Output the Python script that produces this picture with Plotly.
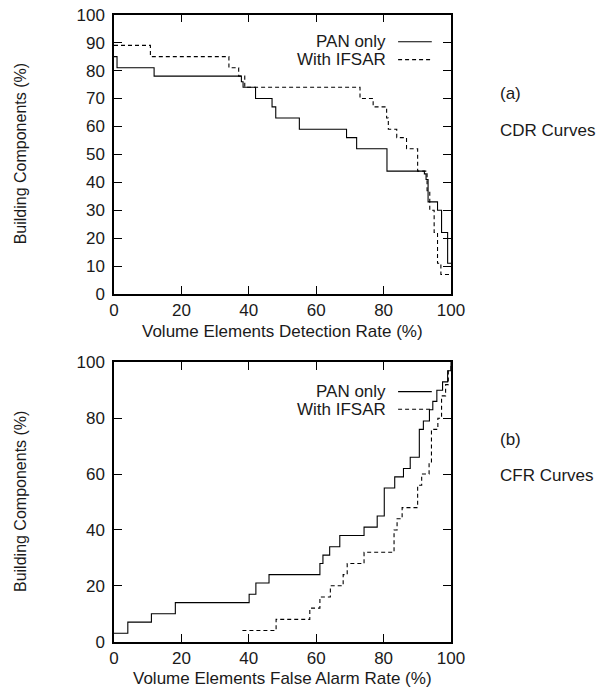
import plotly.graph_objects as go

# ---- data: top panel (CDR curves), step functions (value holds from x_i to x_{i+1})
cdr_pan_x = [0, 0.9, 11.9, 37.8, 38.3, 42.0, 46.9, 48.0, 55.0, 69.0, 72.0, 81.0, 92.1, 92.6, 93.2, 96.0, 97.2, 99.0, 100]
cdr_pan_y = [85, 81, 78, 76, 74, 70, 67, 63, 59, 56, 52, 44, 43, 41, 33, 30, 22, 11, 11]
cdr_ifsar_x = [0, 10.8, 34.1, 37.0, 38.8, 73.0, 76.9, 80.9, 81.4, 83.9, 86.8, 90.1, 92.9, 93.7, 95.0, 96.0, 97.0, 100]
cdr_ifsar_y = [89, 85, 81, 78, 74, 70, 67, 63, 59, 56, 52, 44, 37, 30, 22, 11, 7, 7]

# ---- data: bottom panel (CFR curves)
cfr_pan_x = [0, 4.1, 11.1, 18.2, 40.1, 42.1, 46.0, 61.1, 62.0, 64.0, 67.0, 74.2, 78.1, 80.2, 83.3, 85.9, 87.9, 90.6, 91.8, 93.6, 94.6, 95.8, 97.5, 99.0, 100]
cfr_pan_y = [3, 7, 10, 14, 17, 21, 24, 28, 31, 34, 38, 41, 45, 55, 59, 62, 66, 76, 79, 83, 86, 90, 93, 97, 100]
cfr_ifsar_x = [38.1, 48.1, 58.1, 61.1, 64.2, 68.0, 69.2, 74.2, 83.1, 84.0, 85.5, 90.1, 91.3, 93.5, 94.2, 96.1, 97.2, 98.4, 99.2, 100]
cfr_ifsar_y = [4, 8, 12, 16, 20, 24, 28, 32, 40, 44, 48, 56, 60, 64, 76, 80, 88, 92, 97, 100]

series_names = ["PAN only", "With IFSAR"]
x_ticks = [0, 20, 40, 60, 80, 100]
y_ticks_top = [0, 10, 20, 30, 40, 50, 60, 70, 80, 90, 100]
y_ticks_bottom = [0, 20, 40, 60, 80, 100]

FONT = "Liberation Sans, Arial, sans-serif"
TXT = "#1a1a1a"
FS = 17

# the page body adds an 8px margin; lay out in window pixels and compensate
OFF = 8
W, H = 605 - OFF, 690 - OFF

def px(x):
    return (x - OFF) / W

def py(y):
    return 1 - (y - OFF) / H

fig = go.Figure()

def add_series(x, y, xa, ya, dash):
    fig.add_trace(go.Scatter(x=x, y=y, mode="lines", line_shape="hv",
                             line=dict(color="black", width=1.1, dash=dash),
                             xaxis=xa, yaxis=ya, showlegend=False, hoverinfo="skip"))

add_series(cdr_pan_x, cdr_pan_y, "x", "y", "solid")
add_series(cdr_ifsar_x, cdr_ifsar_y, "x", "y", "4px,3px")
add_series(cfr_pan_x, cfr_pan_y, "x2", "y2", "solid")
add_series(cfr_ifsar_x, cfr_ifsar_y, "x2", "y2", "4px,3px")

xdom = [px(114), px(451)]
top_px = (14.7, 294)
bot_px = (362.3, 641.7)
top_dom = [py(top_px[1]), py(top_px[0])]
bot_dom = [py(bot_px[1]), py(bot_px[0])]

axis_common = dict(showgrid=False, zeroline=False, showline=True, linecolor="black",
                   linewidth=1.5, mirror="ticks", ticks="inside", ticklen=8,
                   tickcolor="black", tickwidth=1, automargin=False,
                   ticklabeloverflow="allow",
                   tickfont=dict(family=FONT, size=FS, color=TXT))

fig.update_layout(
    width=W, height=H,
    margin=dict(l=0, r=0, t=0, b=0),
    paper_bgcolor="white", plot_bgcolor="white",
    xaxis=dict(domain=xdom, anchor="y", range=[0, 100], tickvals=x_ticks,
               ticklabelstandoff=0, **axis_common),
    yaxis=dict(domain=top_dom, anchor="x", range=[0, 100], tickvals=y_ticks_top,
               ticklabelstandoff=4, **axis_common),
    xaxis2=dict(domain=xdom, anchor="y2", range=[0, 100], tickvals=x_ticks,
                ticklabelstandoff=0, **axis_common),
    yaxis2=dict(domain=bot_dom, anchor="x2", range=[0, 100], tickvals=y_ticks_bottom,
                ticklabelstandoff=4, **axis_common),
)

# axis titles
xc = px((114 + 451) / 2)
for text, yy in [("Volume Elements Detection Rate (%)", 331), ("Volume Elements False Alarm Rate (%)", 678)]:
    fig.add_annotation(x=xc, y=py(yy), xref="paper", yref="paper", text=text,
                       showarrow=False, xanchor="center", yanchor="middle",
                       font=dict(family=FONT, size=FS, color=TXT))
for (t0, t1) in [top_px, bot_px]:
    fig.add_annotation(x=px(20), y=py((t0 + t1) / 2), xref="paper", yref="paper",
                       text="Building Components (%)", textangle=-90, showarrow=False,
                       xanchor="center", yanchor="middle",
                       font=dict(family=FONT, size=16, color=TXT))

# gnuplot-style keys (text right-aligned, line sample on the right)
def add_key(xref, yref, ys):
    for name, yv, dash in zip(series_names, ys, ["solid", "4px,3px"]):
        fig.add_annotation(x=81.2, y=yv, xref=xref, yref=yref, text=name, showarrow=False,
                           xanchor="right", yanchor="middle",
                           font=dict(family=FONT, size=FS, color=TXT))
        fig.add_shape(type="line", x0=84.3, x1=94.3, y0=yv, y1=yv, xref=xref, yref=yref,
                      line=dict(color="black", width=1.1, dash=dash))

add_key("x", "y", [90.3, 83.9])
add_key("x2", "y2", [89.5, 83.2])

side = [("(a)", 93), ("CDR Curves", 130), ("(b)", 439), ("CFR Curves", 476)]
for t, yy in side:
    fig.add_annotation(x=px(498), y=py(yy), xref="paper", yref="paper", text=t,
                       showarrow=False, xanchor="left", yanchor="middle",
                       font=dict(family=FONT, size=FS, color=TXT))

fig.write_html("out.html")
